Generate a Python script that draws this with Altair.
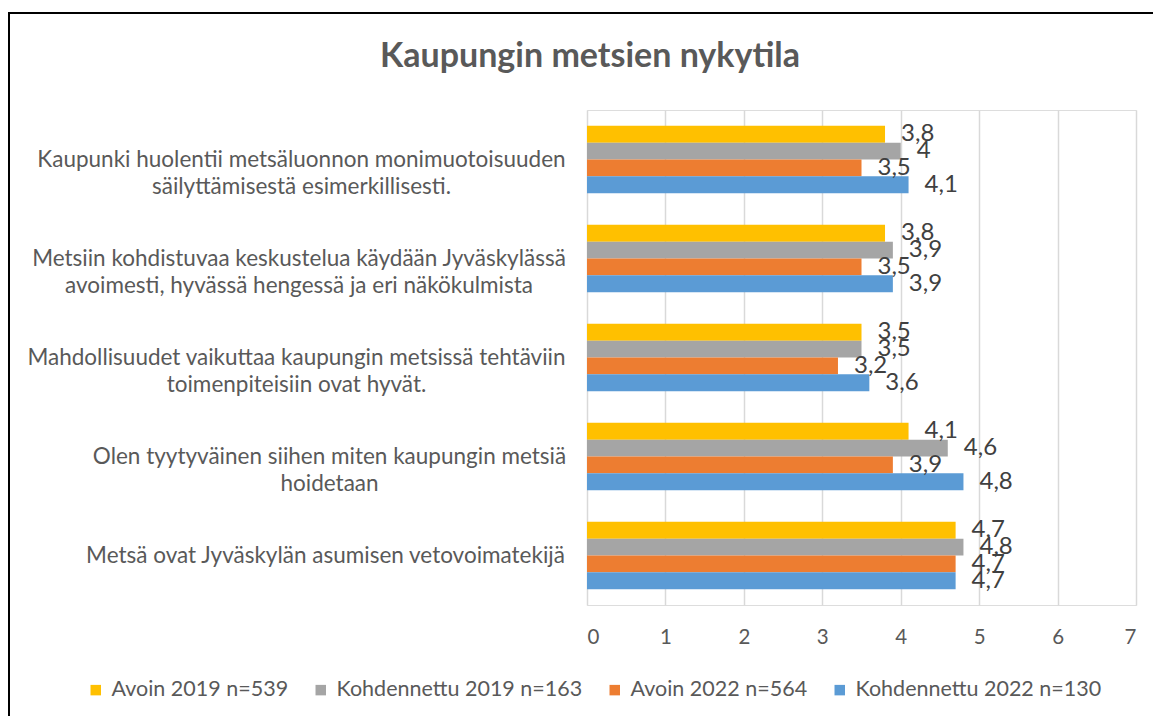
import json
import altair as alt
import pandas as pd

# ---------------- data ----------------
categories = [
    "Kaupunki huolentii metsäluonnon monimuotoisuuden\nsäilyttämisestä esimerkillisesti.",
    "Metsiin kohdistuvaa keskustelua käydään Jyväskylässä\navoimesti, hyvässä hengessä ja eri näkökulmista",
    "Mahdollisuudet vaikuttaa kaupungin metsissä tehtäviin\ntoimenpiteisiin ovat hyvät.",
    "Olen tyytyväinen siihen miten kaupungin metsiä\nhoidetaan",
    "Metsä ovat Jyväskylän asumisen vetovoimatekijä",
]
series = ["Avoin 2019 n=539", "Kohdennettu 2019 n=163", "Avoin 2022 n=564", "Kohdennettu 2022 n=130"]
avoin_2019 = [3.8, 3.8, 3.5, 4.1, 4.7]
kohdennettu_2019 = [4.0, 3.9, 3.5, 4.6, 4.8]
avoin_2022 = [3.5, 3.5, 3.2, 3.9, 4.7]
kohdennettu_2022 = [4.1, 3.9, 3.6, 4.8, 4.7]
x_ticks = [0, 1, 2, 3, 4, 5, 6, 7]
title_text = ["Kaupungin metsien nykytila"]

# ---------------- style ----------------
colors = ["#FFC000", "#A5A5A5", "#ED7D31", "#5B9BD5"]
FONT = "Lato"
TEXT = "#595959"
LABEL_SIZE = 22.5
# approximate pixel width of the widest line of each y label (for centred multi-line blocks)
label_widths = [524, 529, 534, 468, 476]
label_gap = 24

values = [avoin_2019, kohdennettu_2019, avoin_2022, kohdennettu_2022]
rows = []
for s, vals in zip(series, values):
    for c, v in zip(categories, vals):
        rows.append({"category": c, "series": s, "value": v})
df = pd.DataFrame(rows)

pad_cond = [
    {"test": "datum.value == " + json.dumps(c), "value": label_gap + w / 2}
    for c, w in zip(categories, label_widths)
]

y_enc = alt.Y(
    "category:N",
    sort=categories,
    scale=alt.Scale(paddingInner=0.32, paddingOuter=0.16),
    axis=alt.Axis(
        title=None, domain=False, ticks=False, grid=False,
        labelAlign="center", labelBaseline="middle",
        labelPadding={"condition": pad_cond, "value": label_gap + 240},
        labelExpr="split(datum.label, '\\n')",
        labelFont=FONT, labelFontSize=LABEL_SIZE, labelColor=TEXT,
        labelLineHeight=27, labelLimit=700,
    ),
)
x_enc = alt.X(
    "value:Q",
    scale=alt.Scale(domain=[0, 7], nice=False),
    axis=alt.Axis(
        title=None, domain=False, ticks=False, grid=True,
        gridColor="#d9d9d9", gridWidth=1.5, values=x_ticks, format="d",
        labelFont=FONT, labelFontSize=20.5, labelColor=TEXT, labelPadding=22,
    ),
)
yoff = alt.YOffset("series:N", sort=series)

base = alt.Chart(df).encode(y=y_enc, x=x_enc, yOffset=yoff)

bars = base.mark_bar().encode(
    color=alt.Color(
        "series:N", sort=series,
        scale=alt.Scale(domain=series, range=colors),
        legend=alt.Legend(
            title=None, orient="none", legendX=-502, legendY=569,
            direction="horizontal", columns=4, columnPadding=21,
            symbolType="square", symbolSize=110, symbolStrokeWidth=0,
            labelFont=FONT, labelFontSize=21.5, labelColor=TEXT,
            labelOffset=5, labelLimit=400,
        ),
    )
)

labels = base.mark_text(
    align="left", baseline="middle", dx=16, font=FONT, fontSize=24, color="#404040"
).transform_calculate(
    label="replace(format(datum.value, '.1~f'), '.', ',')"
).encode(text="label:N")

title = alt.Chart(pd.DataFrame({"t": title_text})).mark_text(
    font=FONT, fontSize=34, fontWeight="bold", color=TEXT,
    align="center", baseline="alphabetic",
).encode(text="t:N", x=alt.value(3), y=alt.value(-43))

frame = alt.Chart(pd.DataFrame({"a": [0]})).mark_rect(
    fillOpacity=0, stroke="black", strokeWidth=2
).encode(
    x=alt.value(-578), x2=alt.value(640), y=alt.value(-97), y2=alt.value(700)
)

chart = alt.layer(bars, labels, title, frame).properties(
    width=549,
    height=495,
    autosize=alt.AutoSizeParams(type="none"),
    padding={"left": 579, "top": 102, "right": 17, "bottom": 111},
).configure_view(stroke=None).configure(background="white")

chart.save("out.html", embed_options={"renderer": "svg", "actions": False})
